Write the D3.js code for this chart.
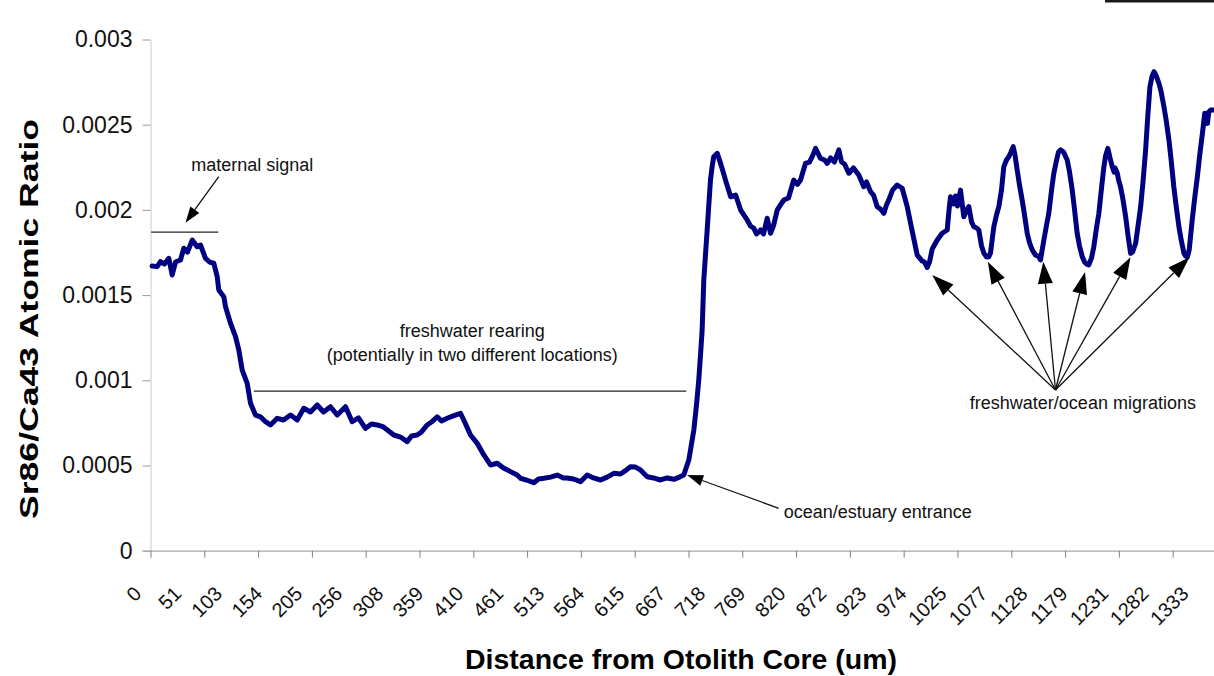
<!DOCTYPE html>
<html>
<head>
<meta charset="utf-8">
<script src="https://cdn.jsdelivr.net/npm/d3@7"></script>
<style>
  html, body { margin: 0; padding: 0; background: #fff; overflow: hidden; }
  svg { display: block; font-family: "Liberation Sans", Arial, sans-serif; }
</style>
</head>
<body>
<svg id="chart"></svg>
<script>
// distance from otolith core (um) and Sr86/Ca43 ratio (x 1000)
const distanceUm = [
  2, 8.5, 12.7, 17.8, 23.3, 27.6, 31.8, 38.2, 42.4, 47.1,
  53.1, 59.4, 63.6, 70, 75.1, 80.6, 84.9, 86.9, 93.3, 95.5,
  101.8, 108.2, 112.4, 116.7, 123.1, 127.3, 133.6, 140, 146.4, 152.7,
  161.3, 169.3, 178.2, 186.7, 195.1, 203.6, 212.2, 220.2, 229.1, 237.6,
  248.2, 256.7, 264.7, 273.6, 281.3, 288.5, 296.5, 309.7, 318.2, 326.7,
  332.2, 339.4, 344.9, 352.2, 357.6, 364.9, 370.4, 377.6, 384.4, 394.5,
  398.7, 407.3, 415.8, 424.2, 432.7, 441.3, 449.3, 458.2, 466.7, 470.9,
  478.5, 487.8, 493.8, 500.6, 509.1, 517.6, 525.6, 530.3, 538.4, 547.3,
  555.8, 563.8, 572.7, 581.2, 589.7, 598.2, 605.8, 610.9, 617.3, 623.6,
  632.2, 640.2, 649.1, 657.6, 666.1, 673.3, 678.7, 685.1, 691.5, 694.9,
  697.8, 700, 702.1, 704.2, 706.3, 708.5, 710.6, 712.7, 714.9, 716.9,
  721.3, 725.5, 728.1, 731.8, 735.7, 738.4, 744.7, 751.1, 759.4, 763.6,
  767.9, 771.3, 776.4, 780.2, 784.9, 789.1, 792.9, 797.6, 801.8, 806.1,
  812, 818.7, 823.4, 827.3, 833.6, 838.7, 842.5, 846.4, 852.7, 857.8,
  861.3, 865.5, 870.5, 876.1, 879.5, 883.3, 888.8, 894.7, 901.5, 907.8,
  911.3, 916.4, 920.2, 924.9, 929.1, 933.3, 936.7, 939.6, 944.4, 950.3,
  956.7, 963.1, 969.4, 975.8, 982.2, 985.1, 988.5, 991.5, 994.9, 1001.3,
  1007.6, 1014, 1016.3, 1018.2, 1022, 1024.6, 1027.1, 1030.9, 1035.1, 1038.6,
  1041.5, 1045, 1047.9, 1051.4, 1054.2, 1057.7, 1060.7, 1064.1, 1067, 1069.1,
  1073.3, 1076.7, 1079.7, 1083.1, 1086, 1089.4, 1092.4, 1095.2, 1098, 1100.3,
  1103.1, 1106, 1109.4, 1112.4, 1115.8, 1118.8, 1122.2, 1126.4, 1130.2, 1132.7,
  1137, 1140.4, 1143.3, 1146.8, 1149.7, 1153.2, 1155.7, 1158.2, 1162.1, 1166.7,
  1169.7, 1173.1, 1176.1, 1179.4, 1182.4, 1185.9, 1188.8, 1191.3, 1194.2, 1197.7,
  1200.6, 1204, 1207, 1210.4, 1213.4, 1215.5, 1218.4, 1221.2, 1224.1, 1226.4,
  1227.6, 1230.5, 1232.1, 1234.6, 1237.8, 1241.1, 1244.2, 1247.4, 1250, 1253.8,
  1257, 1260.2, 1263.4, 1266.5, 1269.1, 1272, 1274.8, 1277.2, 1280, 1283.5,
  1286.3, 1289.8, 1292.6, 1296.2, 1299, 1302.4, 1305.4, 1308.9, 1311.8, 1315.3,
  1317.5, 1319.7, 1322, 1325.8, 1329, 1332.4, 1335.4, 1338.8, 1341.8, 1343.7,
  1345.2, 1346.9, 1349.4, 1353.3
];
const srCaX1000 = [
  1.671, 1.667, 1.696, 1.682, 1.716, 1.618, 1.694, 1.706, 1.775, 1.752,
  1.823, 1.784, 1.794, 1.716, 1.694, 1.687, 1.608, 1.530, 1.491, 1.432,
  1.335, 1.256, 1.178, 1.060, 0.982, 0.865, 0.796, 0.785, 0.757, 0.738,
  0.777, 0.767, 0.796, 0.767, 0.836, 0.814, 0.855, 0.814, 0.845, 0.796,
  0.845, 0.757, 0.779, 0.718, 0.744, 0.738, 0.726, 0.679, 0.667, 0.640,
  0.673, 0.679, 0.697, 0.738, 0.755, 0.786, 0.761, 0.777, 0.790, 0.806,
  0.767, 0.679, 0.630, 0.562, 0.503, 0.513, 0.485, 0.464, 0.444, 0.425,
  0.415, 0.399, 0.421, 0.425, 0.432, 0.444, 0.427, 0.427, 0.421, 0.405,
  0.444, 0.427, 0.415, 0.432, 0.454, 0.450, 0.474, 0.493, 0.491, 0.474,
  0.434, 0.427, 0.415, 0.427, 0.419, 0.432, 0.444, 0.532, 0.708, 0.855,
  1.002, 1.148, 1.295, 1.589, 1.735, 1.882, 2.029, 2.175, 2.258, 2.312,
  2.332, 2.273, 2.234, 2.175, 2.117, 2.077, 2.087, 1.999, 1.941, 1.906,
  1.892, 1.859, 1.882, 1.859, 1.951, 1.863, 1.906, 1.999, 2.029, 2.058,
  2.070, 2.175, 2.150, 2.175, 2.273, 2.281, 2.316, 2.361, 2.303, 2.293,
  2.273, 2.305, 2.281, 2.352, 2.281, 2.269, 2.215, 2.246, 2.205, 2.136,
  2.164, 2.107, 2.087, 2.019, 2.005, 1.980, 2.029, 2.058, 2.116, 2.146,
  2.127, 2.019, 1.876, 1.735, 1.700, 1.694, 1.662, 1.694, 1.771, 1.823,
  1.863, 1.882, 1.999, 2.077, 2.035, 2.082, 2.023, 2.116, 1.960, 1.999,
  2.019, 1.929, 1.901, 1.894, 1.882, 1.788, 1.745, 1.724, 1.725, 1.747,
  1.901, 1.970, 2.019, 2.117, 2.253, 2.293, 2.312, 2.340, 2.371, 2.322,
  2.234, 2.146, 2.058, 1.970, 1.863, 1.806, 1.765, 1.735, 1.729, 1.706,
  1.823, 1.911, 1.980, 2.117, 2.215, 2.293, 2.340, 2.352, 2.340, 2.293,
  2.222, 2.117, 1.999, 1.863, 1.788, 1.725, 1.694, 1.682, 1.677, 1.718,
  1.784, 1.894, 1.980, 2.129, 2.253, 2.316, 2.361, 2.305, 2.253, 2.222,
  2.246, 2.215, 2.175, 2.136, 2.058, 1.960, 1.847, 1.745, 1.753, 1.804,
  1.911, 2.019, 2.175, 2.351, 2.539, 2.723, 2.786, 2.811, 2.786, 2.743,
  2.692, 2.606, 2.528, 2.410, 2.293, 2.136, 2.023, 1.901, 1.823, 1.745,
  1.729, 1.724, 1.765, 1.941, 2.070, 2.195, 2.322, 2.449, 2.567, 2.539,
  2.508, 2.574, 2.586, 2.586
];

const yTicks = [0, 0.5, 1, 1.5, 2, 2.5, 3];
const yTickLabels = ["0", "0.0005", "0.001", "0.0015", "0.002", "0.0025", "0.003"];
const xLabels = [0, 51, 103, 154, 205, 256, 308, 359, 410, 461, 513, 564, 615, 667,
  718, 769, 820, 872, 923, 974, 1025, 1077, 1128, 1179, 1231, 1282, 1333];
const xTickStep = 68.47; // tick marks are not on the label interval

// annotations, in data units (um, ratio x 1000)
const brackets = [
  { x0: 0.9, x1: 86.2, v: 1.870 },
  { x0: 131.5, x1: 681.8, v: 0.937 }
];
const notes = [
  { x: 129.6, v: 2.228, lines: ["maternal signal"], anchor: "middle" },
  { x: 409.5, v: 1.254, lines: ["freshwater rearing", "(potentially in two different locations)"], anchor: "middle" },
  { x: 805.9, v: 0.192, lines: ["ocean/estuary entrance"], anchor: "start" },
  { x: 1042.8, v: 0.832, lines: ["freshwater/ocean migrations"], anchor: "start" }
];
const arrows = [
  { from: [86.9, 2.195], to: [44.5, 1.925], big: false },
  { from: [799.6, 0.249], to: [683, 0.444], big: false },
  { from: [1151.8, 0.943], to: [994.9, 1.618], big: true },
  { from: [1151.8, 0.943], to: [1065.7, 1.696], big: true },
  { from: [1151.8, 0.943], to: [1136.3, 1.696], big: true },
  { from: [1151.8, 0.943], to: [1189.4, 1.636], big: true },
  { from: [1151.8, 0.943], to: [1247.3, 1.722], big: true },
  { from: [1151.8, 0.943], to: [1322.3, 1.722], big: true }
];

const W = 1214, H = 676;
const svg = d3.select("#chart").attr("width", W).attr("height", H);

const x = d3.scaleLinear().domain([0, 1400]).range([150.5, 1250.5]);
const y = d3.scaleLinear().domain([0, 3]).range([550.7, 39.5]);

// y axis
const yAxis = svg.append("g")
  .attr("transform", `translate(${x(0)},0)`)
  .call(d3.axisLeft(y).tickValues(yTicks).tickSize(8).tickSizeOuter(0).tickPadding(10)
    .tickFormat((d, i) => yTickLabels[i]));
yAxis.select(".domain").attr("stroke", "#d4d4d4").attr("stroke-width", 1.2);
yAxis.selectAll(".tick line").attr("stroke", "#9a9a9a");
yAxis.selectAll(".tick text").attr("font-size", 23).attr("fill", "#111")
  .attr("font-family", "Liberation Sans, Arial, sans-serif");

// x axis: tick marks only, labels drawn separately
const xTickVals = d3.range(0, 1400, xTickStep);
const xAxis = svg.append("g")
  .attr("transform", `translate(0,${y(0)})`)
  .call(d3.axisBottom(x).tickValues(xTickVals).tickSize(7).tickSizeOuter(0).tickFormat(""));
xAxis.select(".domain").attr("stroke", "#a8a8a8").attr("stroke-width", 1.2)
  .attr("d", `M${x(0) - 8},0.5H${x(1400)}`);
xAxis.selectAll(".tick line").attr("stroke", "#808080");

svg.append("g").selectAll("text")
  .data(xLabels)
  .join("text")
  .attr("transform", d => `translate(${x(d) - 8},595) rotate(-45)`)
  .attr("text-anchor", "end")
  .attr("font-size", 20)
  .attr("fill", "#111")
  .text(d => d);

// axis titles
svg.append("text")
  .attr("x", 681).attr("y", 669)
  .attr("text-anchor", "middle")
  .attr("font-size", 27).attr("font-weight", "bold")
  .attr("textLength", 432).attr("lengthAdjust", "spacingAndGlyphs")
  .attr("fill", "#000")
  .text("Distance from Otolith Core (um)");

svg.append("text")
  .attr("transform", "translate(38,319) rotate(-90)")
  .attr("text-anchor", "middle")
  .attr("font-size", 25).attr("font-weight", "bold")
  .attr("textLength", 400).attr("lengthAdjust", "spacingAndGlyphs")
  .attr("fill", "#000")
  .text("Sr86/Ca43 Atomic Ratio");

// the profile
const profile = distanceUm.map((d, i) => [d, srCaX1000[i]]);
svg.append("path")
  .datum(profile)
  .attr("fill", "none")
  .attr("stroke", "#000080")
  .attr("stroke-width", 5)
  .attr("stroke-linejoin", "round")
  .attr("stroke-linecap", "round")
  .attr("d", d3.line().x(d => x(d[0])).y(d => y(d[1])));

// annotations
const ann = svg.append("g");
brackets.forEach(b => {
  ann.append("line")
    .attr("x1", x(b.x0)).attr("x2", x(b.x1))
    .attr("y1", y(b.v)).attr("y2", y(b.v))
    .attr("stroke", "#222").attr("stroke-width", 1.2);
});

notes.forEach(n => {
  const t = ann.append("text")
    .attr("x", x(n.x)).attr("y", y(n.v))
    .attr("text-anchor", n.anchor)
    .attr("font-size", 18)
    .attr("fill", "#111");
  n.lines.forEach((line, i) => {
    t.append("tspan").attr("x", x(n.x)).attr("dy", i === 0 ? 0 : 24).text(line);
  });
});

arrows.forEach(a => {
  const x1 = x(a.from[0]), y1 = y(a.from[1]);
  const x2 = x(a.to[0]), y2 = y(a.to[1]);
  const ang = Math.atan2(y2 - y1, x2 - x1);
  const len = a.big ? 22 : 16, half = a.big ? 7.5 : 5.5;
  const bx = x2 - len * Math.cos(ang), by = y2 - len * Math.sin(ang);
  ann.append("line")
    .attr("x1", x1).attr("y1", y1).attr("x2", bx).attr("y2", by)
    .attr("stroke", "#111").attr("stroke-width", 1.3);
  const px = -Math.sin(ang) * half, py = Math.cos(ang) * half;
  ann.append("path")
    .attr("d", `M${x2},${y2}L${bx + px},${by + py}L${bx - px},${by - py}Z`)
    .attr("fill", "#000");
});

// strip of a black frame peeking in at the top right
svg.append("rect")
  .attr("x", 1105).attr("y", 0).attr("width", W - 1105).attr("height", 2.5)
  .attr("fill", "#1a1a1a");
</script>
</body>
</html>
